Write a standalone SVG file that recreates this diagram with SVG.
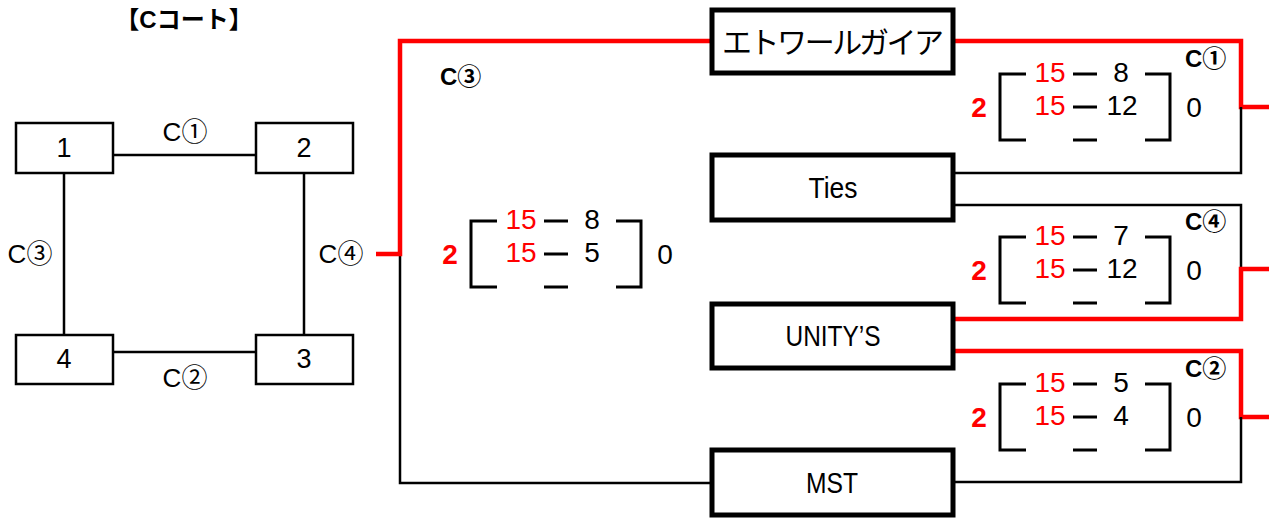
<svg xmlns="http://www.w3.org/2000/svg" width="1269" height="518" viewBox="0 0 1269 518">
<style>
text{font-family:"Liberation Sans","Noto Sans CJK JP",sans-serif;fill:#000}
.sbox{fill:#fff;stroke:#000;stroke-width:2.5}
.tbox{fill:#fff;stroke:#000;stroke-width:5}
.blk{fill:none;stroke:#000;stroke-width:2.5}
.red{fill:none;stroke:#f00;stroke-width:4.5}
.brk{fill:none;stroke:#000;stroke-width:3}
.n{font-size:27px;text-anchor:middle}
.lbl{font-size:26px;text-anchor:middle}
.clb{font-size:24px;font-weight:bold}
.team{font-size:30px;text-anchor:middle}
.sc{font-size:28px;text-anchor:middle}
.r{fill:#f00}
.b{font-weight:bold}
</style>
<defs>
<g id="bracket">
<path class="brk" d="M1026,74H1000V140H1026M1073,74H1097M1073,107H1097M1073,140H1097M1145,74H1170V140H1145"/>
</g>
</defs>
<text x="184" y="28" font-size="24" font-weight="bold" text-anchor="middle">【Cコート】</text>
<g id="connectors">
<path class="blk" d="M113,155H256M113,352H256M64,173V335M304,173V335"/>
<path class="blk" d="M400,254V483H712"/>
<path class="red" d="M376,254H400V41H712"/>
<path class="red" d="M953,41H1241V107H1269"/>
<path class="blk" d="M1241,107V173H953"/>
<path class="blk" d="M953,205H1241V269"/>
<path class="red" d="M953,319H1241V269H1269"/>
<path class="red" d="M953,351H1241V417H1269"/>
<path class="blk" d="M1241,417V482H953"/>
</g>
<g id="n1"><rect class="sbox" x="16" y="123" width="97" height="50"/><text class="n" x="64" y="157">1</text></g>
<g id="n2"><rect class="sbox" x="256" y="123" width="97" height="50"/><text class="n" x="304" y="157">2</text></g>
<g id="n4"><rect class="sbox" x="16" y="335" width="97" height="49"/><text class="n" x="64" y="368">4</text></g>
<g id="n3"><rect class="sbox" x="256" y="335" width="97" height="49"/><text class="n" x="304" y="368">3</text></g>
<text class="lbl" x="185" y="141">C①</text>
<text class="lbl" x="185" y="387">C②</text>
<text class="lbl" x="30" y="263">C③</text>
<text class="lbl" x="341" y="263">C④</text>
<g id="t-etoile"><rect class="tbox" x="712" y="10" width="241" height="63"/><text class="team" x="833" y="53" font-size="26" textLength="222" lengthAdjust="spacing">エトワールガイア</text></g>
<g id="t-ties"><rect class="tbox" x="712" y="155" width="241" height="65"/><text class="team" x="833" y="198" textLength="49" lengthAdjust="spacingAndGlyphs">Ties</text></g>
<g id="t-unitys"><rect class="tbox" x="712" y="304" width="241" height="64"/><text class="team" x="833" y="346" textLength="95" lengthAdjust="spacingAndGlyphs">UNITY’S</text></g>
<g id="t-mst"><rect class="tbox" x="712" y="450" width="241" height="65"/><text class="team" x="832" y="493" textLength="52" lengthAdjust="spacingAndGlyphs">MST</text></g>
<text class="clb" x="440" y="85">C③</text>
<text class="clb" x="1185" y="67">C①</text>
<text class="clb" x="1185" y="230">C④</text>
<text class="clb" x="1185" y="377">C②</text>
<g id="score1">
<use href="#bracket"/>
<text class="sc r b" x="979" y="117">2</text>
<text class="sc r" x="1050" y="82">15</text>
<text class="sc r" x="1050" y="115">15</text>
<text class="sc" x="1121" y="82">8</text>
<text class="sc" x="1122" y="115">12</text>
<text class="sc" x="1194" y="117">0</text>
</g>
<g id="score4" transform="translate(0,163)">
<use href="#bracket"/>
<text class="sc r b" x="979" y="117">2</text>
<text class="sc r" x="1050" y="82">15</text>
<text class="sc r" x="1050" y="115">15</text>
<text class="sc" x="1121" y="82">7</text>
<text class="sc" x="1122" y="115">12</text>
<text class="sc" x="1194" y="117">0</text>
</g>
<g id="score2" transform="translate(0,310)">
<use href="#bracket"/>
<text class="sc r b" x="979" y="117">2</text>
<text class="sc r" x="1050" y="82">15</text>
<text class="sc r" x="1050" y="115">15</text>
<text class="sc" x="1121" y="82">5</text>
<text class="sc" x="1121" y="115">4</text>
<text class="sc" x="1194" y="117">0</text>
</g>
<g id="score3" transform="translate(-529,147)">
<use href="#bracket"/>
<text class="sc r b" x="979" y="117">2</text>
<text class="sc r" x="1050" y="82">15</text>
<text class="sc r" x="1050" y="115">15</text>
<text class="sc" x="1121" y="82">8</text>
<text class="sc" x="1121" y="115">5</text>
<text class="sc" x="1194" y="117">0</text>
</g>
</svg>
